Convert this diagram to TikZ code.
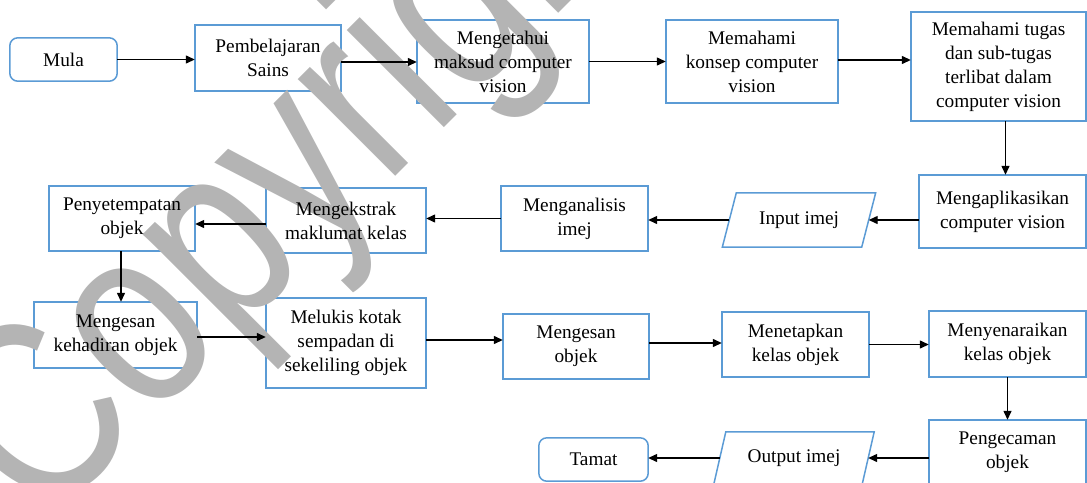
\documentclass[tikz,border=0pt]{standalone}
\usepackage{fontspec}
\setmainfont{Liberation Serif}
\newfontfamily\wmfont{Liberation Sans}
\usetikzlibrary{arrows.meta,calc}
\definecolor{boxblue}{HTML}{5B9BD5}
\definecolor{wmgray}{RGB}{180,180,180}
\pgfdeclarelayer{back}
\pgfdeclarelayer{wm}
\pgfsetlayers{back,wm,main}
\begin{document}
\begin{tikzpicture}[x=1pt,y=-1pt,
  txt/.style={align=center, inner sep=0pt, font=\fontsize{19.3}{24}\selectfont},
  border/.style={draw=boxblue, line width=1.5pt},
  arr/.style={draw=black, line width=1.3pt, -{Triangle[length=9pt,width=8pt]}}]
\useasboundingbox (0,0) rectangle (1087,482);
% text nodes
\node[txt, minimum width=107pt, minimum height=43pt] (mula) at (63.5,59.5) {Mula};
\node[txt, minimum width=146pt, minimum height=66pt] (pemb) at (268,58) {Pembelajaran\\Sains};
\node[txt, minimum width=172pt, minimum height=83pt] (meng) at (503,61.5) {Mengetahui\\maksud computer\\vision};
\node[txt, minimum width=172pt, minimum height=83pt] (memk) at (752,61.5) {Memahami\\konsep computer\\vision};
\node[txt, minimum width=175pt, minimum height=109pt] (tugas) at (998.5,66.5) {Memahami tugas\\dan sub-tugas\\terlibat dalam\\computer vision};
\node[txt, minimum width=167pt, minimum height=73pt] (aplik) at (1002.5,211.5) {Mengaplikasikan\\computer vision};
\node[txt, minimum width=139pt, minimum height=54pt] (inp) at (799,220) {Input imej};
\node[txt, minimum width=147pt, minimum height=65pt] (anal) at (574.5,218.5) {Menganalisis\\imej};
\node[txt, minimum width=160pt, minimum height=65pt] (ekst) at (346,220.5) {Mengekstrak\\maklumat kelas};
\node[txt, minimum width=146pt, minimum height=65pt] (peny) at (122,218.5) {Penyetempatan\\objek};
\node[txt, minimum width=163pt, minimum height=66pt] (kehad) at (115.5,335) {Mengesan\\kehadiran objek};
\node[txt, minimum width=160pt, minimum height=90pt] (meluk) at (346,343) {Melukis kotak\\sempadan di\\sekeliling objek};
\node[txt, minimum width=146pt, minimum height=65pt] (mobj) at (576,346.5) {Mengesan\\objek};
\node[txt, minimum width=147pt, minimum height=65pt] (menet) at (795.5,344.5) {Menetapkan\\kelas objek};
\node[txt, minimum width=157pt, minimum height=66pt] (senar) at (1007.5,344) {Menyenaraikan\\kelas objek};
\node[txt, minimum width=157pt, minimum height=64pt] (pengec) at (1007.5,452) {Pengecaman\\objek};
\node[txt, minimum width=148pt, minimum height=52pt] (outp) at (794,458) {Output imej};
\node[txt, minimum width=109pt, minimum height=43pt] (tamat) at (593.5,459.5) {Tamat};
% box outlines (beneath the watermark)
\begin{pgfonlayer}{back}
\draw[border, rounded corners=8pt] (mula.south west) rectangle (mula.north east);
\draw[border, rounded corners=8pt] (tamat.south west) rectangle (tamat.north east);
\foreach \n in {pemb,meng,memk,tugas,aplik,anal,ekst,peny,kehad,meluk,mobj,menet,senar,pengec}
  \draw[border] (\n.south west) rectangle (\n.north east);
\draw[border] ($(inp.north west)+(7,0)$) -- ($(inp.north east)+(7,0)$) -- ($(inp.south east)+(-7,0)$) -- ($(inp.south west)+(-7,0)$) -- cycle;
\draw[border] ($(outp.north west)+(6,0)$) -- ($(outp.north east)+(6,0)$) -- ($(outp.south east)+(-6,0)$) -- ($(outp.south west)+(-6,0)$) -- cycle;
\end{pgfonlayer}
% watermark
\begin{pgfonlayer}{wm}
\node[text=wmgray, font=\wmfont\fontsize{260}{260}\selectfont, rotate=45, anchor=base west, inner sep=0pt] (wmark) at (42,530) {\scalebox{0.8}[1]{Copyright}};
\end{pgfonlayer}
% connectors
\draw[arr] (mula.east) -- (mula.east -| pemb.west);
\draw[arr] ([yshift=-4pt]pemb.east) -- ([yshift=-4pt]pemb.east -| meng.west);
\draw[arr] (meng.east) -- (meng.east -| memk.west);
\draw[arr] ([yshift=1.5pt]memk.east) -- ([yshift=1.5pt]memk.east -| tugas.west);
\draw[arr] ([xshift=7pt]tugas.south) -- ([xshift=7pt]tugas.south |- aplik.north);
\draw[arr] (aplik.west |- inp.east) -- (inp.east);
\draw[arr] (inp.west) -- (inp.west -| anal.east);
\draw[arr] (anal.west) -- (anal.west -| ekst.east);
\draw[arr] ([yshift=-3.5pt]ekst.west) -- ([yshift=-3.5pt]ekst.west -| peny.east);
\draw[arr] ([xshift=-1pt]peny.south) -- ([xshift=-1pt]peny.south |- kehad.north);
\draw[arr] ([yshift=-2pt]kehad.east) -- ([yshift=-2pt]kehad.east -| meluk.west);
\draw[arr] ([yshift=3pt]meluk.east) -- ([yshift=3pt]meluk.east -| mobj.west);
\draw[arr] ([yshift=3.5pt]mobj.east) -- ([yshift=3.5pt]mobj.east -| menet.west);
\draw[arr] (menet.east) -- (menet.east -| senar.west);
\draw[arr] (senar.south) -- (senar.south |- pengec.north);
\draw[arr] (pengec.west |- outp.east) -- (outp.east);
\draw[arr] (outp.west) -- (outp.west -| tamat.east);
\end{tikzpicture}
\end{document}
